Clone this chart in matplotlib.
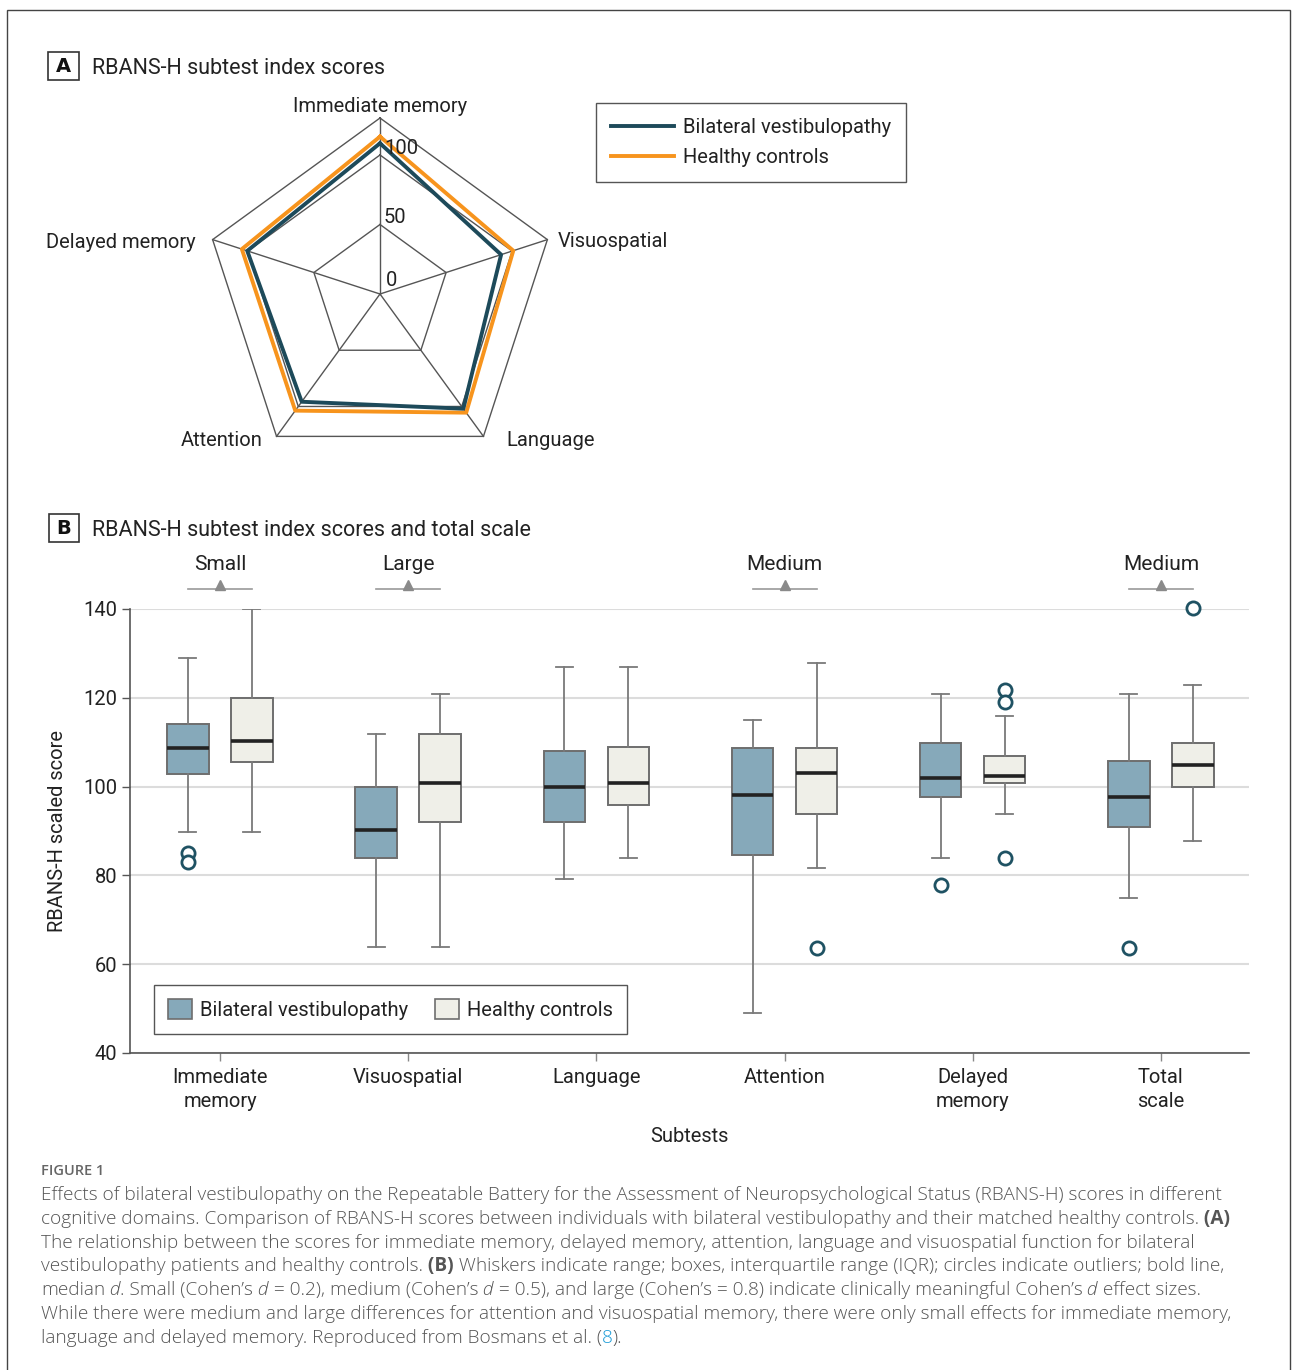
import matplotlib
matplotlib.use('Agg')
import matplotlib.pyplot as plt
import numpy as np
from matplotlib import font_manager as fm
from matplotlib.patches import Patch, Rectangle
from matplotlib.lines import Line2D

# ---------------- data ----------------
radar_axes = ['Immediate memory', 'Visuospatial', 'Language', 'Attention', 'Delayed memory']
radar_bv = [108.4, 91.6, 102.0, 95.8, 100.4]
radar_hc = [113.2, 100.8, 105.5, 103.7, 104.5]
radar_ticks = [0, 50, 100]
radar_max = 126.6

subtests = ['Immediate\nmemory', 'Visuospatial', 'Language', 'Attention', 'Delayed\nmemory', 'Total\nscale']
bv_whislo = [89.7, 63.8, 79.1, 48.9, 84.0, 74.8]
bv_q1 = [102.9, 83.9, 92.0, 84.7, 97.7, 90.9]
bv_med = [108.6, 90.3, 99.8, 98.2, 101.9, 97.7]
bv_q3 = [114.0, 100.0, 108.0, 108.6, 109.8, 105.7]
bv_whishi = [129.0, 111.9, 127.0, 115.0, 120.9, 120.9]
bv_fliers = [[85.0, 83.0], [], [], [], [77.8], [63.6]]

hc_whislo = [89.7, 63.8, 84.0, 81.7, 93.9, 87.8]
hc_q1 = [105.6, 92.0, 95.8, 93.8, 100.7, 100.0]
hc_med = [110.3, 100.7, 100.8, 103.1, 102.4, 104.9]
hc_q3 = [120.0, 111.9, 108.9, 108.6, 107.0, 109.9]
hc_whishi = [140.0, 120.9, 127.0, 127.8, 116.0, 122.9]
hc_fliers = [[], [], [], [63.6], [121.8, 119.1, 83.9], [140.2]]

effect_idx = [0, 1, 3, 5]
effect_lbl = ['Small', 'Large', 'Medium', 'Medium']

yticks = [40, 60, 80, 100, 120, 140]
series_names = ['Bilateral vestibulopathy', 'Healthy controls']

# ---------------- style ----------------
def has_font(name):
    try:
        fm.findfont(fm.FontProperties(family=name), fallback_to_default=False)
        return True
    except Exception:
        return False

CF = ['Roboto', 'DejaVu Sans'] if has_font('Roboto') else ['DejaVu Sans']
CAPF = ['Open Sans', 'DejaVu Sans'] if has_font('Open Sans') else ['DejaVu Sans']
plt.rcParams['font.family'] = CF

TXT = '#222222'
C_BV_LINE = '#1d4a5a'
C_HC_LINE = '#f7941d'
C_BV_BOX = '#86a9ba'
C_HC_BOX = '#efefe8'
C_EDGE = '#6e6e6e'
C_FLIER = '#1f5263'
FS = 14.5

W, H = 1293, 1370
fig = plt.figure(figsize=(W / 100, H / 100), dpi=100)


def fx(px):
    return px / W


def fy(py):
    return 1 - py / H


# outer frame
fig.patches.append(Rectangle((fx(7), fy(1385)), fx(1290) - fx(7), fy(10) - fy(1385),
                             transform=fig.transFigure, fill=False, edgecolor='#444444', lw=1.0))


def panel_label(letter, x0, y0, x1, y1, title, tdy):
    fig.patches.append(Rectangle((fx(x0), fy(y1)), fx(x1) - fx(x0), fy(y0) - fy(y1),
                                 transform=fig.transFigure, fill=False, edgecolor='#333333', lw=1.2))
    fig.text(fx((x0 + x1) / 2), fy((y0 + y1) / 2 + 1), letter, ha='center', va='center',
             fontsize=14, weight='bold', color='#111111', family=['DejaVu Sans'])
    fig.text(fx(x1 + 13), fy((y0 + y1) / 2 + tdy), title, ha='left', va='center', fontsize=15.5, color=TXT)


panel_label('A', 48, 52, 79, 80, 'RBANS-H subtest index scores', 2)
panel_label('B', 49, 514, 79, 542, 'RBANS-H subtest index scores and total scale', 3)

# ---------------- radar ----------------
cx, cy, R = 380, 294, 176
axr = fig.add_axes([fx(cx - R), fy(cy + R), fx(2 * R), (2 * R) / H], projection='polar')
axr.set_theta_offset(np.pi / 2)
axr.set_theta_direction(-1)
axr.set_ylim(0, radar_max)
axr.axis('off')
ang = np.arange(len(radar_axes)) * 2 * np.pi / len(radar_axes)
ang_c = np.append(ang, ang[0])
for r in [50, 100, radar_max]:
    axr.plot(ang_c, [r] * len(ang_c), color='#555555', lw=1.0, clip_on=False, zorder=1)
for a in ang:
    axr.plot([a, a], [0, radar_max], color='#555555', lw=1.0, clip_on=False, zorder=1)
axr.plot(ang_c, np.append(radar_hc, radar_hc[0]), color=C_HC_LINE, lw=2.8, clip_on=False, zorder=3)
axr.plot(ang_c, np.append(radar_bv, radar_bv[0]), color=C_BV_LINE, lw=2.8, clip_on=False, zorder=4)
for v in radar_ticks:
    off = (4, 1) if v else (6, 8)
    axr.annotate(str(v), (0, v), xytext=off, textcoords='offset pixels', ha='left', va='baseline',
                 fontsize=FS, color=TXT, annotation_clip=False, zorder=5)
lab_off = [((0, 12), 'center', 'center'), ((10, -2), 'left', 'center'), ((23, -4), 'left', 'center'),
           ((-14, -4), 'right', 'center'), ((-17, -3), 'right', 'center')]
for a, name, (off, ha, va) in zip(ang, radar_axes, lab_off):
    axr.annotate(name, (a, radar_max), xytext=off, textcoords='offset pixels', ha=ha, va=va,
                 fontsize=FS, color=TXT, annotation_clip=False)

leg_a = fig.legend([Line2D([], [], color=C_BV_LINE, lw=2.8), Line2D([], [], color=C_HC_LINE, lw=2.8)],
                   series_names, loc='upper left', bbox_to_anchor=(fx(596), fy(103)),
                   bbox_transform=fig.transFigure, borderaxespad=0, fontsize=FS, handlelength=3.1,
                   handletextpad=0.45, borderpad=0.75, labelspacing=0.55, fancybox=False,
                   edgecolor='#555555', framealpha=1)
leg_a.get_frame().set_linewidth(1.0)
for t in leg_a.get_texts():
    t.set_color(TXT)

# ---------------- box plot ----------------
axb = fig.add_axes([fx(130), fy(1053), fx(1249) - fx(130), (1053 - 609) / H])
pos = np.arange(len(subtests))
off = 0.17


def stats(wl, q1, md, q3, wh, fl):
    return [dict(whislo=a, q1=b, med=c, q3=d, whishi=e, fliers=f)
            for a, b, c, d, e, f in zip(wl, q1, md, q3, wh, fl)]


for st, dx, col in [(stats(bv_whislo, bv_q1, bv_med, bv_q3, bv_whishi, bv_fliers), -off, C_BV_BOX),
                    (stats(hc_whislo, hc_q1, hc_med, hc_q3, hc_whishi, hc_fliers), off, C_HC_BOX)]:
    res = axb.bxp(st, positions=pos + dx, widths=0.22, capwidths=0.09, patch_artist=True,
                  manage_ticks=False,
                  boxprops=dict(facecolor=col, edgecolor=C_EDGE, lw=1.4),
                  medianprops=dict(color='#222222', lw=2.6),
                  whiskerprops=dict(color='#7a7a7a', lw=1.3),
                  capprops=dict(color='#7a7a7a', lw=1.3),
                  flierprops=dict(marker='o', markerfacecolor='white', markeredgecolor=C_FLIER,
                                  markersize=9.5, markeredgewidth=2.0))
    for f in res['fliers']:
        f.set_clip_on(False)
        f.set_zorder(5)

axb.set_xlim(-0.478, 5.468)
axb.set_ylim(40, 140)
axb.set_yticks(yticks)
axb.set_xticks(pos)
axb.set_xticklabels(subtests, fontsize=FS, color=TXT, linespacing=1.3)
axb.tick_params(axis='y', labelsize=FS, labelcolor=TXT, color='#555555', length=6, width=1, pad=3)
axb.tick_params(axis='x', color='#888888', length=6, width=1, pad=5)
axb.yaxis.grid(True, color='#dcdcdc', lw=1.5, zorder=0)
axb.set_axisbelow(True)
for s in ['top', 'right']:
    axb.spines[s].set_visible(False)
for s in ['left', 'bottom']:
    axb.spines[s].set_color('#555555')
    axb.spines[s].set_linewidth(1.2)
axb.set_ylabel('RBANS-H scaled score', fontsize=FS, color=TXT, labelpad=12)
axb.set_xlabel('Subtests', fontsize=FS, color=TXT, labelpad=12)

for i, lbl in zip(effect_idx, effect_lbl):
    axb.plot([i - off, i + off], [144.5, 144.5], color='#999999', lw=1.2, clip_on=False)
    axb.plot([i], [145.4], marker='^', color='#8a8a8a', markersize=7, clip_on=False)
    axb.text(i, 150.0, lbl, ha='center', va='center', fontsize=FS + 0.5, color=TXT, clip_on=False)

leg_b = axb.legend([Patch(facecolor=C_BV_BOX, edgecolor=C_EDGE, lw=1.2),
                    Patch(facecolor=C_HC_BOX, edgecolor=C_EDGE, lw=1.2)],
                   series_names, loc='lower left', bbox_to_anchor=(fx(154), fy(1034)),
                   bbox_transform=fig.transFigure, borderaxespad=0, ncol=2, fontsize=FS,
                   handlelength=1.2, handleheight=1.2, handletextpad=0.4, columnspacing=1.3,
                   borderpad=0.7, fancybox=False, edgecolor='#555555', framealpha=1)
leg_b.get_frame().set_linewidth(1.0)
for t in leg_b.get_texts():
    t.set_color(TXT)

# ---------------- caption ----------------
renderer = fig.canvas.get_renderer()
CAPC = '#555555'
fig.text(fx(41), fy(1175), 'FIGURE 1', ha='left', va='baseline', fontsize=10.5, weight='semibold',
         color='#666666', family=CAPF)

cap_lines = [
    [('Effects of bilateral vestibulopathy on the Repeatable Battery for the Assessment of '
      'Neuropsychological Status (RBANS-H) scores in different', 'n')],
    [('cognitive domains. Comparison of RBANS-H scores between individuals with bilateral '
      'vestibulopathy and their matched healthy controls.', 'n'), (' (A)', 'b')],
    [('The relationship between the scores for immediate memory, delayed memory, attention, '
      'language and visuospatial function for bilateral', 'n')],
    [('vestibulopathy patients and healthy controls.', 'n'), (' (B)', 'b'),
     (' Whiskers indicate range; boxes, interquartile range (IQR); circles indicate outliers; bold line,', 'n')],
    [('median', 'n'), (' d', 'i'), ('. Small (Cohen\u2019s', 'n'), (' d', 'i'), (' = 0.2), medium (Cohen\u2019s', 'n'),
     (' d', 'i'), (' = 0.5), and large (Cohen\u2019s = 0.8) indicate clinically meaningful Cohen\u2019s', 'n'),
     (' d', 'i'), (' effect sizes.', 'n')],
    [('While there were medium and large differences for attention and visuospatial memory, '
      'there were only small effects for immediate memory,', 'n')],
    [('language and delayed memory. Reproduced from Bosmans et al. (', 'n'), ('8', 'l'), (').', 'n')],
]

# scale caption font to match the reference line width
probe = fig.text(0, 0, cap_lines[0][0][0], fontsize=12, family=CAPF, weight='light')
wpx = probe.get_window_extent(renderer).width
probe.remove()
cap_fs = 12 * 1179.0 / wpx

for li, segs in enumerate(cap_lines):
    x = 41.0
    yb = 1200 + 23.8 * li
    for txt, sty in segs:
        kw = dict(fontsize=cap_fs, family=CAPF, color=CAPC, ha='left', va='baseline', weight='light')
        if sty == 'b':
            kw['weight'] = 'bold'
        elif sty == 'i':
            kw['style'] = 'italic'
        elif sty == 'l':
            kw['color'] = '#1a9bd7'
        t = fig.text(fx(x), fy(yb), txt, **kw)
        x += t.get_window_extent(renderer).width

fig.savefig('out.png', dpi=100)
